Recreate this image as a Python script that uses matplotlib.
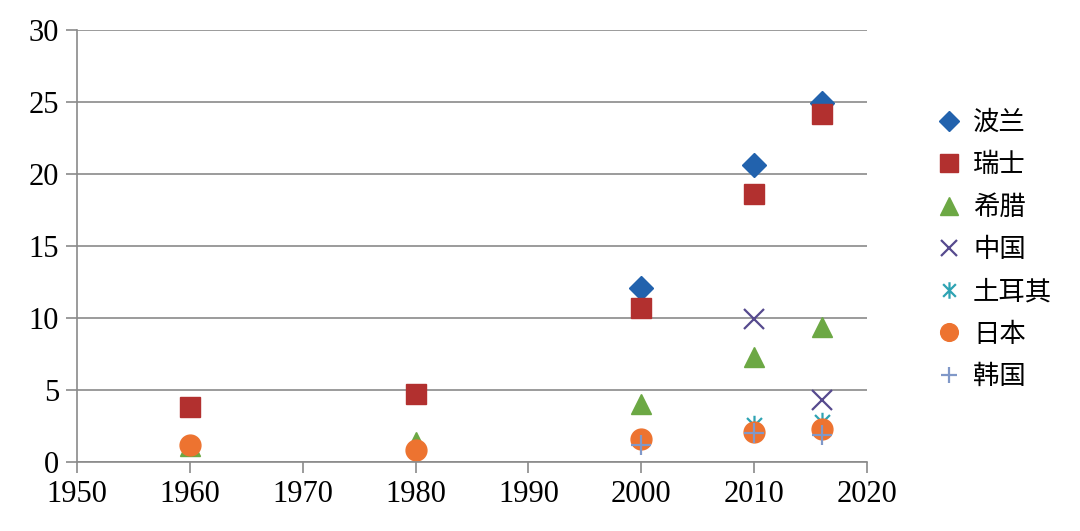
import numpy as np
import matplotlib.pyplot as plt
from matplotlib.path import Path

plt.rcParams['font.family'] = ['Liberation Serif', 'Noto Sans CJK SC', 'DejaVu Sans']

# data
poland_x = [2000, 2010, 2016]
poland_y = [12.1, 20.6, 24.9]
swiss_x = [1960, 1980, 2000, 2010, 2016]
swiss_y = [3.8, 4.7, 10.7, 18.6, 24.2]
greece_x = [1960, 1980, 2000, 2010, 2016]
greece_y = [1.1, 1.4, 4.0, 7.3, 9.4]
china_x = [2010, 2016]
china_y = [9.9, 4.3]
turkey_x = [2010, 2016]
turkey_y = [2.6, 2.8]
japan_x = [1960, 1980, 2000, 2010, 2016]
japan_y = [1.2, 0.8, 1.6, 2.1, 2.3]
korea_x = [2000, 2010, 2016]
korea_y = [1.2, 2.0, 1.9]

# asterisk-like marker (x with vertical bar)
star = Path([(-1, -1), (1, 1), (-1, 1), (1, -1), (0, -1.3), (0, 1.3)],
            [Path.MOVETO, Path.LINETO] * 3)

fig = plt.figure(figsize=(10.8, 5.31), dpi=100)
ax = fig.add_axes([0.0713, 0.130, 0.7315, 0.8135])

ax.plot(poland_x, poland_y, 'D', ms=12, color='#2262AD', mec='#2262AD', label='波兰')
ax.plot(swiss_x, swiss_y, 's', ms=15, color='#B2302F', mec='#B2302F', label='瑞士')
ax.plot(greece_x, greece_y, '^', ms=15, color='#6CA844', mec='#6CA844', label='希腊')
ax.plot(china_x, china_y, 'x', ms=14, mew=1.6, color='#564A8E', label='中国')
ax.plot(turkey_x, turkey_y, ls='none', marker=star, ms=14, mew=1.6, color='#2EA3B3', label='土耳其')
ax.plot(japan_x, japan_y, 'o', ms=15, color='#ED7330', mec='#ED7330', label='日本')
ax.plot(korea_x, korea_y, '+', ms=14, mew=1.6, color='#8098C8', label='韩国')

ax.set_xlim(1950, 2020)
ax.set_ylim(0, 30)
ax.set_xticks(np.arange(1950, 2021, 10))
ax.set_yticks(np.arange(0, 31, 5))
ax.grid(axis='y', color='#8a8a8a', lw=1.2)
ax.set_axisbelow(True)
for s in ['top', 'right']:
    ax.spines[s].set_visible(False)
for s in ['left', 'bottom']:
    ax.spines[s].set_color('#8a8a8a')
    ax.spines[s].set_linewidth(1.2)
ax.tick_params(axis='both', labelsize=22, color='#8a8a8a', width=1.2, length=8,
               direction='out', pad=5)

leg = ax.legend(loc='center left', bbox_to_anchor=(0.868, 0.53), bbox_transform=fig.transFigure,
                frameon=False, prop={'family': ['Noto Sans CJK SC'], 'size': 19},
                handlelength=0.9, handletextpad=0.45, labelspacing=0.58, markerscale=0.85,
                borderaxespad=0, borderpad=0)

plt.savefig('out.png', dpi=100)
